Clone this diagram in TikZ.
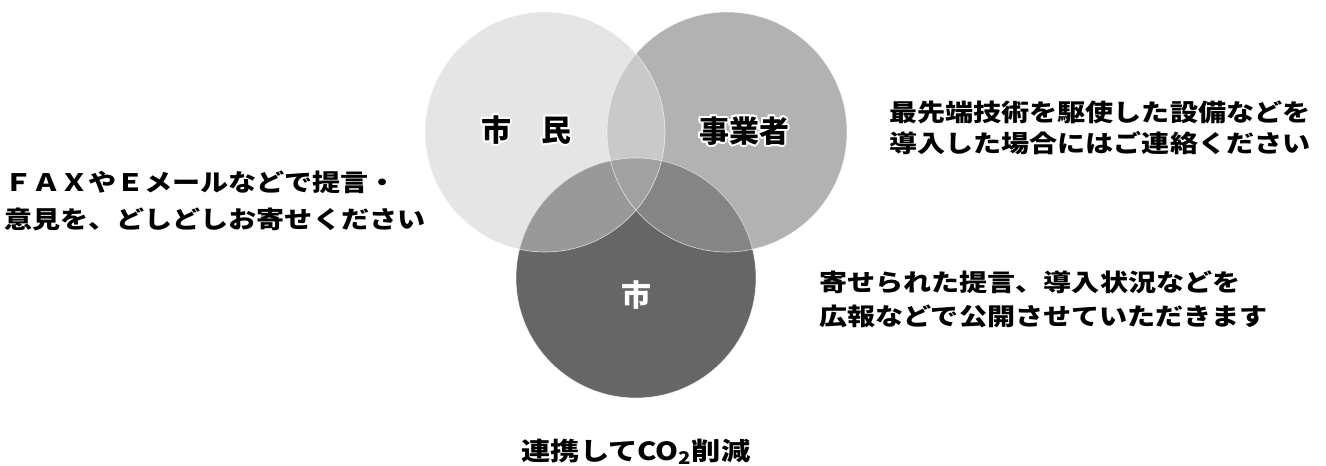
\documentclass[tikz,border=0pt]{standalone}
\usepackage{fontspec}
\setmainfont{Noto Sans CJK JP}
\newfontfamily\jpwide{Noto Sans CJK JP}[FakeStretch=1.17]
\usepackage{contour}
\contourlength{2pt}

\begin{document}
\begin{tikzpicture}[x=1pt, y=-1pt,
ring/.style={draw=white, draw opacity=0.7, line width=0.6pt},
msg/.style={align=left, inner sep=0pt, font=\jpwide\bfseries\fontsize{24}{35}\selectfont},
tag/.style={inner sep=0pt, font=\bfseries\fontsize{30}{30}\selectfont}]
\useasboundingbox (0,0) rectangle (1326,466);

% three circles
\coordinate (cs) at (545,132);
\coordinate (cj) at (727,132);
\coordinate (cc) at (636,278);

\fill[black!10] (cs) circle[radius=120pt];
\fill[black!30] (cj) circle[radius=120pt];
\fill[black!60] (cc) circle[radius=120pt];
\begin{scope}
\clip (cj) circle[radius=120pt];
\fill[black!48] (cc) circle[radius=120pt];
\end{scope}
\begin{scope}
\clip (cs) circle[radius=120pt];
\fill[black!21] (cj) circle[radius=120pt];
\fill[black!40] (cc) circle[radius=120pt];
\clip (cj) circle[radius=120pt];
\fill[black!37] (cc) circle[radius=120pt];
\end{scope}
\foreach \c in {cs,cj,cc}
  \draw[ring] (\c) circle[radius=120pt];

% labels
\node[tag] (shimin) at (526,131) {\contour{white}{市　民}};
\node[tag] (jigyo) at (744,132) {\contour{white}{事業者}};
\node[tag, text=white] (shi) at (636,295) {市};

% messages
\node[msg, anchor=west, font=\jpwide\bfseries\fontsize{24}{36.5}\selectfont] (fax) at (4,201)
  {ＦＡＸやＥメールなどで提言・\\意見を、どしどしお寄せください};
\node[msg, anchor=west, font=\jpwide\bfseries\fontsize{24}{31}\selectfont] (tech) at (889,128)
  {最先端技術を駆使した設備などを\\導入した場合にはご連絡ください};
\node[msg, anchor=west, font=\jpwide\bfseries\fontsize{24}{34}\selectfont] (koho) at (819,299)
  {寄せられた提言、導入状況などを\\広報などで公開させていただきます};
\node[msg, font=\jpwide\bfseries\fontsize{25}{30}\selectfont] (co2) at (636,452)
  {連携して\textit{CO}\textsubscript{2}削減};
\end{tikzpicture}
\end{document}
